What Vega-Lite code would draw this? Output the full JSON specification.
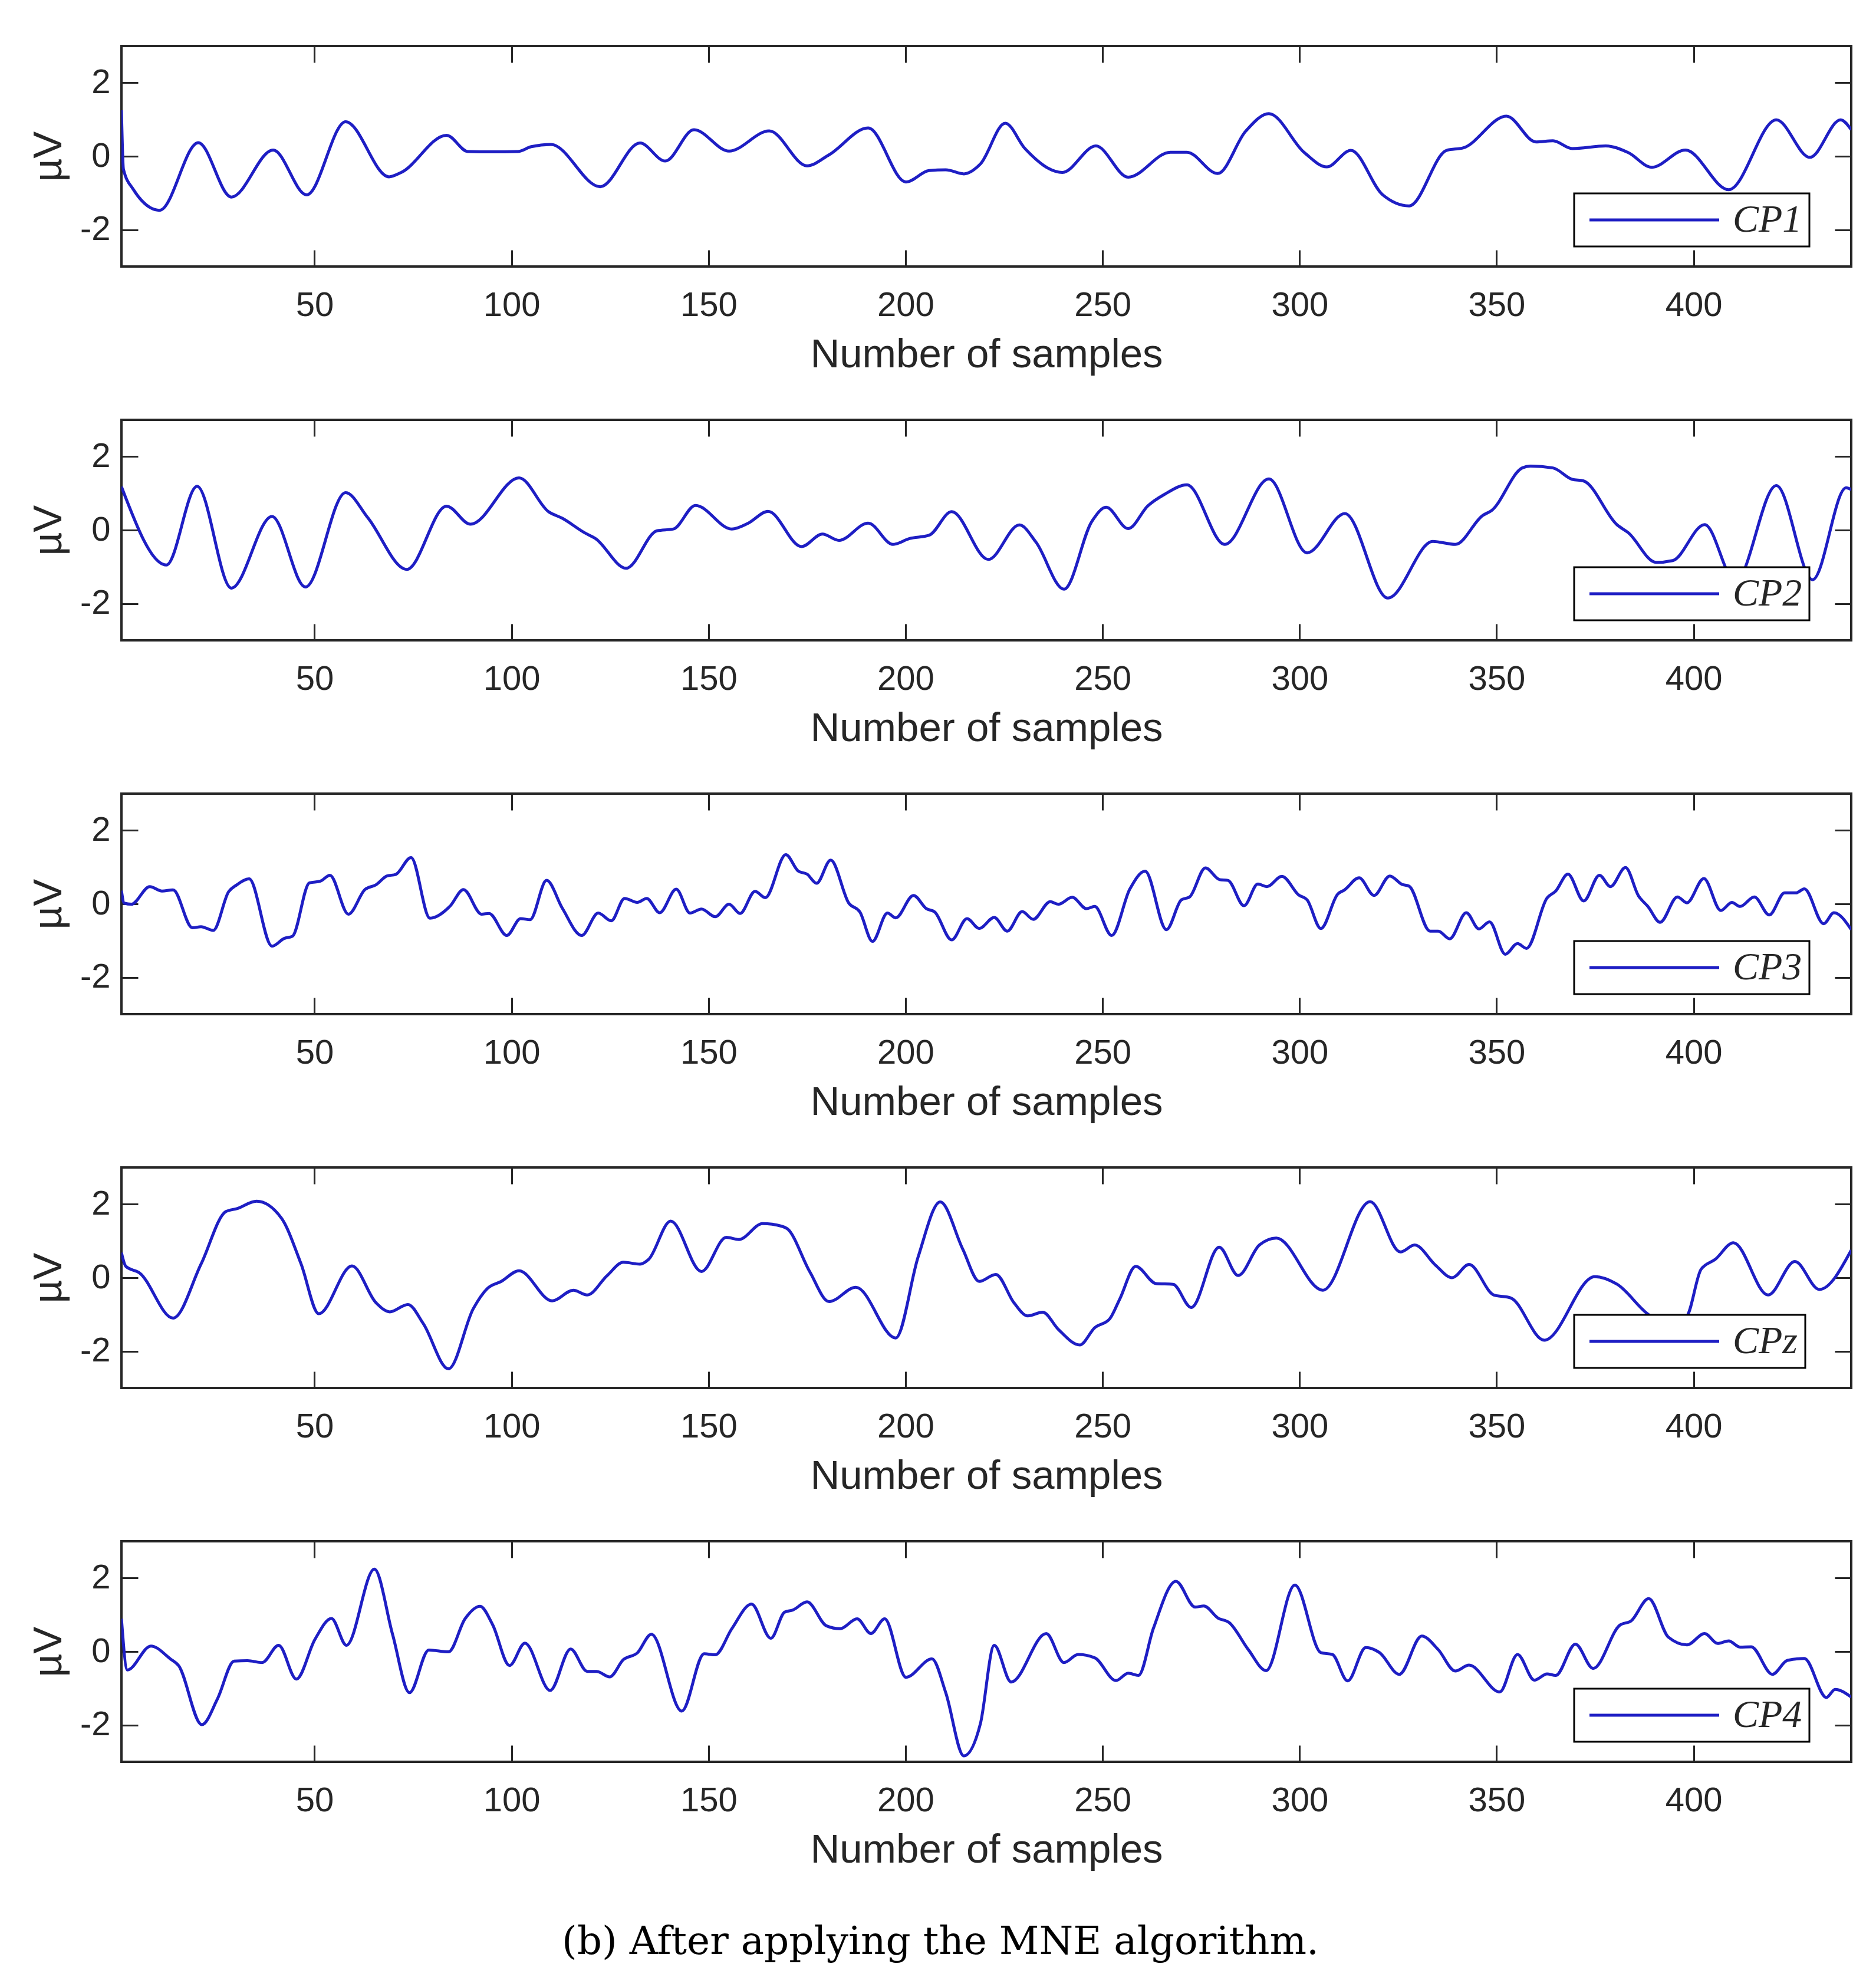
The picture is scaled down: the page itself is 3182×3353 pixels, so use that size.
{
"$schema": "https://vega.github.io/schema/vega-lite/v6.json",
"background": "white",
"padding": {"left": 46, "top": 74, "right": 20, "bottom": 20},
"config": {
  "view": {"stroke": "#262626", "strokeWidth": 4},
  "axis": {"grid": false, "domain": false, "tickColor": "#262626", "tickWidth": 3, "tickSize": -28, "labelColor": "#262626", "labelFont": "Liberation Sans", "labelFontSize": 58, "titleFont": "Liberation Sans", "titleFontSize": 69, "titleFontWeight": "normal", "titleColor": "#262626", "labelExpr": "'' + datum.value"},
  "legend": {"orient": "none", "legendX": 2464, "legendY": 250, "title": null, "symbolType": "M-5,0H5", "symbolSize": 1936, "symbolStrokeWidth": 5, "symbolOffset": 91, "labelOffset": 100, "labelFont": "Liberation Serif", "labelFontStyle": "italic", "labelFontSize": 66, "labelColor": "#262626", "padding": 12, "strokeColor": "#000000", "strokeWidth": 3, "fillColor": "white"}
},
"title": {"text": "(b) After applying the MNE algorithm.", "orient": "bottom", "anchor": "middle", "font": "DejaVu Serif", "fontSize": 66, "fontWeight": "normal", "color": "#000000", "offset": 88},
"data": {"values": [
{"ch":"CP1","s":1,"v":1.25},{"ch":"CP1","s":1.5,"v":-0.35},{"ch":"CP1","s":4,"v":-0.9},{"ch":"CP1","s":10.7,"v":-1.47},{"ch":"CP1","s":20.5,"v":0.37},{"ch":"CP1","s":28.9,"v":-1.11},{"ch":"CP1","s":39.5,"v":0.17},{"ch":"CP1","s":48,"v":-1.05},{"ch":"CP1","s":57.9,"v":0.94},{"ch":"CP1","s":68.9,"v":-0.56},{"ch":"CP1","s":72,"v":-0.44},{"ch":"CP1","s":83.5,"v":0.57},{"ch":"CP1","s":88.9,"v":0.13},{"ch":"CP1","s":95,"v":0.12},{"ch":"CP1","s":101.6,"v":0.13},{"ch":"CP1","s":105,"v":0.26},{"ch":"CP1","s":110,"v":0.32},{"ch":"CP1","s":122.5,"v":-0.83},{"ch":"CP1","s":132.6,"v":0.36},{"ch":"CP1","s":139,"v":-0.13},{"ch":"CP1","s":146.3,"v":0.72},{"ch":"CP1","s":155.2,"v":0.14},{"ch":"CP1","s":165.4,"v":0.69},{"ch":"CP1","s":175,"v":-0.26},{"ch":"CP1","s":180.6,"v":0.04},{"ch":"CP1","s":190.5,"v":0.77},{"ch":"CP1","s":200.1,"v":-0.7},{"ch":"CP1","s":206,"v":-0.39},{"ch":"CP1","s":210.2,"v":-0.37},{"ch":"CP1","s":214.8,"v":-0.48},{"ch":"CP1","s":219,"v":-0.21},{"ch":"CP1","s":225.3,"v":0.9},{"ch":"CP1","s":230.3,"v":0.21},{"ch":"CP1","s":239.8,"v":-0.44},{"ch":"CP1","s":248.3,"v":0.28},{"ch":"CP1","s":256.5,"v":-0.57},{"ch":"CP1","s":267.2,"v":0.11},{"ch":"CP1","s":271.4,"v":0.11},{"ch":"CP1","s":279.2,"v":-0.47},{"ch":"CP1","s":286.3,"v":0.68},{"ch":"CP1","s":292.2,"v":1.16},{"ch":"CP1","s":301.2,"v":0.1},{"ch":"CP1","s":306.9,"v":-0.29},{"ch":"CP1","s":313,"v":0.16},{"ch":"CP1","s":321,"v":-1.04},{"ch":"CP1","s":327.8,"v":-1.35},{"ch":"CP1","s":337.3,"v":0.16},{"ch":"CP1","s":341.6,"v":0.23},{"ch":"CP1","s":352.5,"v":1.09},{"ch":"CP1","s":360,"v":0.39},{"ch":"CP1","s":364.3,"v":0.42},{"ch":"CP1","s":369.2,"v":0.21},{"ch":"CP1","s":377.7,"v":0.28},{"ch":"CP1","s":383.4,"v":0.1},{"ch":"CP1","s":389.4,"v":-0.3},{"ch":"CP1","s":397.9,"v":0.17},{"ch":"CP1","s":408.9,"v":-0.91},{"ch":"CP1","s":421,"v":0.99},{"ch":"CP1","s":429.5,"v":-0.03},{"ch":"CP1","s":437.3,"v":0.99},{"ch":"CP1","s":440,"v":0.72},
{"ch":"CP2","s":1,"v":1.18},{"ch":"CP2","s":12.4,"v":-0.95},{"ch":"CP2","s":20.2,"v":1.19},{"ch":"CP2","s":28.9,"v":-1.58},{"ch":"CP2","s":39.2,"v":0.37},{"ch":"CP2","s":47.7,"v":-1.55},{"ch":"CP2","s":57.9,"v":1.02},{"ch":"CP2","s":63.5,"v":0.34},{"ch":"CP2","s":73.4,"v":-1.07},{"ch":"CP2","s":83.5,"v":0.65},{"ch":"CP2","s":89.6,"v":0.16},{"ch":"CP2","s":101.9,"v":1.42},{"ch":"CP2","s":109.4,"v":0.5},{"ch":"CP2","s":112.9,"v":0.32},{"ch":"CP2","s":118.5,"v":-0.07},{"ch":"CP2","s":121.3,"v":-0.23},{"ch":"CP2","s":129.1,"v":-1.04},{"ch":"CP2","s":136.9,"v":-0.02},{"ch":"CP2","s":141.1,"v":0.03},{"ch":"CP2","s":146.7,"v":0.67},{"ch":"CP2","s":155.9,"v":0.03},{"ch":"CP2","s":160.1,"v":0.19},{"ch":"CP2","s":165.1,"v":0.51},{"ch":"CP2","s":173.6,"v":-0.45},{"ch":"CP2","s":178.9,"v":-0.11},{"ch":"CP2","s":183.1,"v":-0.28},{"ch":"CP2","s":190.5,"v":0.19},{"ch":"CP2","s":196.8,"v":-0.39},{"ch":"CP2","s":201,"v":-0.23},{"ch":"CP2","s":206,"v":-0.14},{"ch":"CP2","s":211.7,"v":0.5},{"ch":"CP2","s":221,"v":-0.8},{"ch":"CP2","s":228.9,"v":0.14},{"ch":"CP2","s":233.1,"v":-0.33},{"ch":"CP2","s":240.2,"v":-1.61},{"ch":"CP2","s":247.3,"v":0.24},{"ch":"CP2","s":250.9,"v":0.62},{"ch":"CP2","s":256.5,"v":0.04},{"ch":"CP2","s":261.5,"v":0.66},{"ch":"CP2","s":265.7,"v":0.97},{"ch":"CP2","s":271.4,"v":1.23},{"ch":"CP2","s":281,"v":-0.39},{"ch":"CP2","s":292.2,"v":1.39},{"ch":"CP2","s":301.9,"v":-0.62},{"ch":"CP2","s":311.5,"v":0.45},{"ch":"CP2","s":322.4,"v":-1.85},{"ch":"CP2","s":333.8,"v":-0.31},{"ch":"CP2","s":339.5,"v":-0.39},{"ch":"CP2","s":346.5,"v":0.4},{"ch":"CP2","s":348.7,"v":0.53},{"ch":"CP2","s":356.5,"v":1.69},{"ch":"CP2","s":358.6,"v":1.74},{"ch":"CP2","s":364.3,"v":1.69},{"ch":"CP2","s":369.2,"v":1.38},{"ch":"CP2","s":372,"v":1.34},{"ch":"CP2","s":380.6,"v":0.14},{"ch":"CP2","s":383.4,"v":-0.07},{"ch":"CP2","s":390.5,"v":-0.88},{"ch":"CP2","s":394.7,"v":-0.83},{"ch":"CP2","s":402.8,"v":0.15},{"ch":"CP2","s":410.6,"v":-1.4},{"ch":"CP2","s":421,"v":1.21},{"ch":"CP2","s":430.2,"v":-1.35},{"ch":"CP2","s":438.7,"v":1.15},{"ch":"CP2","s":440,"v":1.1},
{"ch":"CP3","s":1,"v":0.36},{"ch":"CP3","s":1.7,"v":0.02},{"ch":"CP3","s":3.5,"v":-0.01},{"ch":"CP3","s":8.2,"v":0.47},{"ch":"CP3","s":11.3,"v":0.35},{"ch":"CP3","s":14.1,"v":0.38},{"ch":"CP3","s":19,"v":-0.65},{"ch":"CP3","s":21.2,"v":-0.62},{"ch":"CP3","s":24.3,"v":-0.72},{"ch":"CP3","s":28.2,"v":0.33},{"ch":"CP3","s":30.3,"v":0.52},{"ch":"CP3","s":33.4,"v":0.68},{"ch":"CP3","s":39.2,"v":-1.15},{"ch":"CP3","s":42.3,"v":-0.94},{"ch":"CP3","s":44.4,"v":-0.88},{"ch":"CP3","s":48.7,"v":0.57},{"ch":"CP3","s":51.5,"v":0.62},{"ch":"CP3","s":53.9,"v":0.78},{"ch":"CP3","s":58.6,"v":-0.28},{"ch":"CP3","s":62.8,"v":0.39},{"ch":"CP3","s":65.6,"v":0.52},{"ch":"CP3","s":68.4,"v":0.76},{"ch":"CP3","s":70.6,"v":0.8},{"ch":"CP3","s":74.5,"v":1.26},{"ch":"CP3","s":79.3,"v":-0.39},{"ch":"CP3","s":84.4,"v":-0.06},{"ch":"CP3","s":87.8,"v":0.39},{"ch":"CP3","s":92.4,"v":-0.28},{"ch":"CP3","s":94.3,"v":-0.26},{"ch":"CP3","s":98.8,"v":-0.86},{"ch":"CP3","s":102.3,"v":-0.4},{"ch":"CP3","s":104.7,"v":-0.43},{"ch":"CP3","s":108.9,"v":0.64},{"ch":"CP3","s":112.9,"v":-0.12},{"ch":"CP3","s":117.8,"v":-0.86},{"ch":"CP3","s":122,"v":-0.25},{"ch":"CP3","s":125.3,"v":-0.46},{"ch":"CP3","s":128.7,"v":0.15},{"ch":"CP3","s":131.9,"v":0.04},{"ch":"CP3","s":134.3,"v":0.15},{"ch":"CP3","s":137.6,"v":-0.24},{"ch":"CP3","s":141.8,"v":0.4},{"ch":"CP3","s":145.3,"v":-0.25},{"ch":"CP3","s":148.2,"v":-0.14},{"ch":"CP3","s":151.7,"v":-0.35},{"ch":"CP3","s":155.2,"v":-0.01},{"ch":"CP3","s":158,"v":-0.26},{"ch":"CP3","s":161.8,"v":0.34},{"ch":"CP3","s":164.4,"v":0.17},{"ch":"CP3","s":169.6,"v":1.34},{"ch":"CP3","s":172.8,"v":0.89},{"ch":"CP3","s":175,"v":0.81},{"ch":"CP3","s":177.4,"v":0.56},{"ch":"CP3","s":181,"v":1.19},{"ch":"CP3","s":185.6,"v":0.02},{"ch":"CP3","s":188.4,"v":-0.22},{"ch":"CP3","s":191.6,"v":-1.02},{"ch":"CP3","s":195.4,"v":-0.25},{"ch":"CP3","s":197.5,"v":-0.38},{"ch":"CP3","s":202,"v":0.23},{"ch":"CP3","s":205.3,"v":-0.13},{"ch":"CP3","s":207.4,"v":-0.22},{"ch":"CP3","s":211.7,"v":-0.98},{"ch":"CP3","s":215.6,"v":-0.4},{"ch":"CP3","s":218.7,"v":-0.67},{"ch":"CP3","s":222.5,"v":-0.37},{"ch":"CP3","s":225.8,"v":-0.74},{"ch":"CP3","s":229.6,"v":-0.21},{"ch":"CP3","s":232.4,"v":-0.42},{"ch":"CP3","s":236.7,"v":0.06},{"ch":"CP3","s":238.8,"v":-0.01},{"ch":"CP3","s":242.3,"v":0.18},{"ch":"CP3","s":245.9,"v":-0.13},{"ch":"CP3","s":248,"v":-0.07},{"ch":"CP3","s":252.3,"v":-0.86},{"ch":"CP3","s":256.9,"v":0.4},{"ch":"CP3","s":260.8,"v":0.89},{"ch":"CP3","s":266.2,"v":-0.7},{"ch":"CP3","s":270,"v":0.11},{"ch":"CP3","s":272.1,"v":0.19},{"ch":"CP3","s":276.1,"v":0.98},{"ch":"CP3","s":279.7,"v":0.66},{"ch":"CP3","s":281.8,"v":0.64},{"ch":"CP3","s":285.9,"v":-0.05},{"ch":"CP3","s":289.4,"v":0.54},{"ch":"CP3","s":291.7,"v":0.47},{"ch":"CP3","s":295.5,"v":0.75},{"ch":"CP3","s":299.8,"v":0.24},{"ch":"CP3","s":301.9,"v":0.11},{"ch":"CP3","s":305.4,"v":-0.67},{"ch":"CP3","s":309.7,"v":0.27},{"ch":"CP3","s":311.4,"v":0.38},{"ch":"CP3","s":315.1,"v":0.71},{"ch":"CP3","s":318.9,"v":0.23},{"ch":"CP3","s":322.9,"v":0.76},{"ch":"CP3","s":326,"v":0.53},{"ch":"CP3","s":327.8,"v":0.48},{"ch":"CP3","s":333.1,"v":-0.74},{"ch":"CP3","s":335.2,"v":-0.74},{"ch":"CP3","s":338.1,"v":-0.95},{"ch":"CP3","s":342.3,"v":-0.24},{"ch":"CP3","s":345.5,"v":-0.68},{"ch":"CP3","s":348.2,"v":-0.49},{"ch":"CP3","s":352.2,"v":-1.37},{"ch":"CP3","s":355.3,"v":-1.08},{"ch":"CP3","s":357.6,"v":-1.21},{"ch":"CP3","s":362.8,"v":0.16},{"ch":"CP3","s":365,"v":0.35},{"ch":"CP3","s":368.1,"v":0.81},{"ch":"CP3","s":372.1,"v":0.08},{"ch":"CP3","s":376.1,"v":0.78},{"ch":"CP3","s":378.9,"v":0.47},{"ch":"CP3","s":382.7,"v":0.99},{"ch":"CP3","s":386,"v":0.22},{"ch":"CP3","s":388.4,"v":-0.07},{"ch":"CP3","s":391.5,"v":-0.5},{"ch":"CP3","s":395.9,"v":0.19},{"ch":"CP3","s":398.3,"v":0.03},{"ch":"CP3","s":402.6,"v":0.69},{"ch":"CP3","s":406.9,"v":-0.18},{"ch":"CP3","s":409.7,"v":0.04},{"ch":"CP3","s":411.8,"v":-0.07},{"ch":"CP3","s":415.4,"v":0.19},{"ch":"CP3","s":419.2,"v":-0.3},{"ch":"CP3","s":423.1,"v":0.3},{"ch":"CP3","s":426,"v":0.3},{"ch":"CP3","s":428.1,"v":0.41},{"ch":"CP3","s":433,"v":-0.54},{"ch":"CP3","s":435.6,"v":-0.24},{"ch":"CP3","s":440,"v":-0.7},
{"ch":"CPz","s":1,"v":0.68},{"ch":"CPz","s":2.1,"v":0.31},{"ch":"CPz","s":5.6,"v":0.13},{"ch":"CPz","s":14.1,"v":-1.1},{"ch":"CPz","s":21.2,"v":0.37},{"ch":"CPz","s":27.5,"v":1.8},{"ch":"CPz","s":30.3,"v":1.88},{"ch":"CPz","s":35.3,"v":2.08},{"ch":"CPz","s":41.6,"v":1.62},{"ch":"CPz","s":46.6,"v":0.37},{"ch":"CPz","s":51.1,"v":-0.98},{"ch":"CPz","s":59.5,"v":0.32},{"ch":"CPz","s":65.6,"v":-0.68},{"ch":"CPz","s":69.1,"v":-0.93},{"ch":"CPz","s":73.7,"v":-0.73},{"ch":"CPz","s":77.6,"v":-1.25},{"ch":"CPz","s":84,"v":-2.48},{"ch":"CPz","s":90.3,"v":-0.84},{"ch":"CPz","s":93.8,"v":-0.3},{"ch":"CPz","s":97.4,"v":-0.1},{"ch":"CPz","s":101.9,"v":0.19},{"ch":"CPz","s":110.3,"v":-0.63},{"ch":"CPz","s":115.7,"v":-0.34},{"ch":"CPz","s":119.2,"v":-0.47},{"ch":"CPz","s":124.2,"v":0.05},{"ch":"CPz","s":128.4,"v":0.42},{"ch":"CPz","s":132.6,"v":0.37},{"ch":"CPz","s":134.8,"v":0.5},{"ch":"CPz","s":140.4,"v":1.54},{"ch":"CPz","s":148.2,"v":0.17},{"ch":"CPz","s":154.5,"v":1.1},{"ch":"CPz","s":157.7,"v":1.04},{"ch":"CPz","s":163.7,"v":1.47},{"ch":"CPz","s":168.6,"v":1.4},{"ch":"CPz","s":170,"v":1.33},{"ch":"CPz","s":175.7,"v":0.16},{"ch":"CPz","s":180.6,"v":-0.65},{"ch":"CPz","s":187.4,"v":-0.26},{"ch":"CPz","s":197.5,"v":-1.64},{"ch":"CPz","s":203.2,"v":0.57},{"ch":"CPz","s":208.8,"v":2.06},{"ch":"CPz","s":214.5,"v":0.78},{"ch":"CPz","s":218.7,"v":-0.1},{"ch":"CPz","s":222.9,"v":0.09},{"ch":"CPz","s":227.5,"v":-0.68},{"ch":"CPz","s":231,"v":-1.04},{"ch":"CPz","s":234.8,"v":-0.94},{"ch":"CPz","s":238.8,"v":-1.41},{"ch":"CPz","s":244.2,"v":-1.83},{"ch":"CPz","s":248,"v":-1.36},{"ch":"CPz","s":251.8,"v":-1.12},{"ch":"CPz","s":254.4,"v":-0.57},{"ch":"CPz","s":258.4,"v":0.31},{"ch":"CPz","s":263.6,"v":-0.16},{"ch":"CPz","s":267.9,"v":-0.18},{"ch":"CPz","s":272.5,"v":-0.81},{"ch":"CPz","s":279.6,"v":0.83},{"ch":"CPz","s":284.4,"v":0.06},{"ch":"CPz","s":289.8,"v":0.89},{"ch":"CPz","s":294.1,"v":1.08},{"ch":"CPz","s":305.9,"v":-0.34},{"ch":"CPz","s":317.9,"v":2.07},{"ch":"CPz","s":325.6,"v":0.7},{"ch":"CPz","s":329.2,"v":0.89},{"ch":"CPz","s":334.5,"v":0.34},{"ch":"CPz","s":338.7,"v":0.0},{"ch":"CPz","s":343,"v":0.36},{"ch":"CPz","s":349.3,"v":-0.47},{"ch":"CPz","s":353.6,"v":-0.55},{"ch":"CPz","s":362.1,"v":-1.7},{"ch":"CPz","s":374.9,"v":0.03},{"ch":"CPz","s":380.6,"v":-0.18},{"ch":"CPz","s":388.4,"v":-0.99},{"ch":"CPz","s":393.5,"v":-1.3},{"ch":"CPz","s":398.3,"v":-1.04},{"ch":"CPz","s":401.9,"v":0.23},{"ch":"CPz","s":405.5,"v":0.5},{"ch":"CPz","s":410.1,"v":0.95},{"ch":"CPz","s":418.9,"v":-0.47},{"ch":"CPz","s":425.7,"v":0.44},{"ch":"CPz","s":431.9,"v":-0.32},{"ch":"CPz","s":440,"v":0.75},
{"ch":"CP4","s":1,"v":0.89},{"ch":"CP4","s":2.5,"v":-0.5},{"ch":"CP4","s":8.5,"v":0.15},{"ch":"CP4","s":13.4,"v":-0.2},{"ch":"CP4","s":15.5,"v":-0.38},{"ch":"CP4","s":21.4,"v":-1.99},{"ch":"CP4","s":25.4,"v":-1.28},{"ch":"CP4","s":29.6,"v":-0.26},{"ch":"CP4","s":33,"v":-0.25},{"ch":"CP4","s":36.7,"v":-0.3},{"ch":"CP4","s":40.9,"v":0.17},{"ch":"CP4","s":45.4,"v":-0.75},{"ch":"CP4","s":50.1,"v":0.33},{"ch":"CP4","s":54.3,"v":0.9},{"ch":"CP4","s":58.1,"v":0.17},{"ch":"CP4","s":65.2,"v":2.24},{"ch":"CP4","s":69.8,"v":0.47},{"ch":"CP4","s":74.1,"v":-1.12},{"ch":"CP4","s":79,"v":0.04},{"ch":"CP4","s":84,"v":-0.01},{"ch":"CP4","s":88.2,"v":0.89},{"ch":"CP4","s":92,"v":1.23},{"ch":"CP4","s":95.2,"v":0.73},{"ch":"CP4","s":99.5,"v":-0.38},{"ch":"CP4","s":103.4,"v":0.23},{"ch":"CP4","s":109.8,"v":-1.06},{"ch":"CP4","s":115,"v":0.07},{"ch":"CP4","s":119.2,"v":-0.54},{"ch":"CP4","s":121.6,"v":-0.54},{"ch":"CP4","s":124.9,"v":-0.69},{"ch":"CP4","s":128.4,"v":-0.22},{"ch":"CP4","s":131.9,"v":-0.04},{"ch":"CP4","s":135.5,"v":0.47},{"ch":"CP4","s":143.2,"v":-1.62},{"ch":"CP4","s":148.9,"v":-0.06},{"ch":"CP4","s":151.7,"v":-0.09},{"ch":"CP4","s":155.9,"v":0.62},{"ch":"CP4","s":160.9,"v":1.29},{"ch":"CP4","s":165.8,"v":0.36},{"ch":"CP4","s":169.3,"v":1.07},{"ch":"CP4","s":171.4,"v":1.13},{"ch":"CP4","s":175,"v":1.35},{"ch":"CP4","s":179.9,"v":0.7},{"ch":"CP4","s":183.4,"v":0.62},{"ch":"CP4","s":187.7,"v":0.89},{"ch":"CP4","s":191.2,"v":0.49},{"ch":"CP4","s":194.7,"v":0.89},{"ch":"CP4","s":200.1,"v":-0.7},{"ch":"CP4","s":206.7,"v":-0.2},{"ch":"CP4","s":210.2,"v":-1.12},{"ch":"CP4","s":214.8,"v":-2.84},{"ch":"CP4","s":219,"v":-1.96},{"ch":"CP4","s":222.5,"v":0.17},{"ch":"CP4","s":226.8,"v":-0.83},{"ch":"CP4","s":235.7,"v":0.49},{"ch":"CP4","s":240.2,"v":-0.3},{"ch":"CP4","s":243.8,"v":-0.08},{"ch":"CP4","s":248,"v":-0.17},{"ch":"CP4","s":253.4,"v":-0.79},{"ch":"CP4","s":256.5,"v":-0.59},{"ch":"CP4","s":259.1,"v":-0.65},{"ch":"CP4","s":262.9,"v":0.63},{"ch":"CP4","s":268.6,"v":1.91},{"ch":"CP4","s":273.5,"v":1.21},{"ch":"CP4","s":275.7,"v":1.24},{"ch":"CP4","s":279.3,"v":0.91},{"ch":"CP4","s":282.1,"v":0.79},{"ch":"CP4","s":287,"v":0.05},{"ch":"CP4","s":291.5,"v":-0.52},{"ch":"CP4","s":298.8,"v":1.81},{"ch":"CP4","s":305.4,"v":-0.03},{"ch":"CP4","s":308.3,"v":-0.08},{"ch":"CP4","s":312.2,"v":-0.8},{"ch":"CP4","s":316.8,"v":0.11},{"ch":"CP4","s":320.3,"v":-0.03},{"ch":"CP4","s":325.3,"v":-0.62},{"ch":"CP4","s":331,"v":0.42},{"ch":"CP4","s":335.2,"v":0.05},{"ch":"CP4","s":339.5,"v":-0.53},{"ch":"CP4","s":343,"v":-0.37},{"ch":"CP4","s":350.8,"v":-1.1},{"ch":"CP4","s":355.3,"v":-0.08},{"ch":"CP4","s":359.6,"v":-0.78},{"ch":"CP4","s":362.8,"v":-0.61},{"ch":"CP4","s":365,"v":-0.65},{"ch":"CP4","s":370,"v":0.2},{"ch":"CP4","s":374.5,"v":-0.46},{"ch":"CP4","s":381.3,"v":0.72},{"ch":"CP4","s":384.1,"v":0.83},{"ch":"CP4","s":388.6,"v":1.44},{"ch":"CP4","s":393.6,"v":0.39},{"ch":"CP4","s":398.3,"v":0.18},{"ch":"CP4","s":402.8,"v":0.49},{"ch":"CP4","s":406.1,"v":0.22},{"ch":"CP4","s":408.9,"v":0.29},{"ch":"CP4","s":411.8,"v":0.12},{"ch":"CP4","s":414.6,"v":0.13},{"ch":"CP4","s":420,"v":-0.62},{"ch":"CP4","s":423.8,"v":-0.24},{"ch":"CP4","s":428.1,"v":-0.19},{"ch":"CP4","s":433.7,"v":-1.25},{"ch":"CP4","s":435.9,"v":-1.03},{"ch":"CP4","s":440,"v":-1.24}
]},
"spacing": 70,
"resolve": {"scale": {"color": "independent"}, "legend": {"color": "independent"}},
"vconcat": [
{"width": 2934, "height": 374, "transform": [{"filter": "datum.ch === 'CP1'"}],
 "layer": [
  {"mark": {"type": "line", "interpolate": "monotone", "strokeWidth": 5, "clip": true},
   "encoding": {
    "x": {"field": "s", "type": "quantitative", "scale": {"domain": [1, 440], "nice": false, "zero": false}, "axis": {"orient": "bottom", "values": [50,100,150,200,250,300,350,400], "title": "Number of samples", "labelPadding": 65, "titlePadding": 20}},
    "y": {"field": "v", "type": "quantitative", "scale": {"domain": [-3, 3], "nice": false}, "axis": {"orient": "left", "values": [-2,0,2], "title": "µV", "labelPadding": 47, "titlePadding": 18}},
    "color": {"field": "ch", "type": "nominal", "scale": {"range": ["#1e1ec4"]}}}},
  {"mark": {"type": "line", "opacity": 0},
   "encoding": {
    "x": {"field": "s", "type": "quantitative", "axis": {"orient": "top", "values": [50,100,150,200,250,300,350,400], "labels": false, "title": null}},
    "y": {"field": "v", "type": "quantitative", "axis": {"orient": "right", "values": [-2,0,2], "labels": false, "title": null}}}}
 ],
 "resolve": {"axis": {"x": "independent", "y": "independent"}}},
{"width": 2934, "height": 374, "transform": [{"filter": "datum.ch === 'CP2'"}],
 "layer": [
  {"mark": {"type": "line", "interpolate": "monotone", "strokeWidth": 5, "clip": true},
   "encoding": {
    "x": {"field": "s", "type": "quantitative", "scale": {"domain": [1, 440], "nice": false, "zero": false}, "axis": {"orient": "bottom", "values": [50,100,150,200,250,300,350,400], "title": "Number of samples", "labelPadding": 65, "titlePadding": 20}},
    "y": {"field": "v", "type": "quantitative", "scale": {"domain": [-3, 3], "nice": false}, "axis": {"orient": "left", "values": [-2,0,2], "title": "µV", "labelPadding": 47, "titlePadding": 18}},
    "color": {"field": "ch", "type": "nominal", "scale": {"range": ["#1e1ec4"]}}}},
  {"mark": {"type": "line", "opacity": 0},
   "encoding": {
    "x": {"field": "s", "type": "quantitative", "axis": {"orient": "top", "values": [50,100,150,200,250,300,350,400], "labels": false, "title": null}},
    "y": {"field": "v", "type": "quantitative", "axis": {"orient": "right", "values": [-2,0,2], "labels": false, "title": null}}}}
 ],
 "resolve": {"axis": {"x": "independent", "y": "independent"}}},
{"width": 2934, "height": 374, "transform": [{"filter": "datum.ch === 'CP3'"}],
 "layer": [
  {"mark": {"type": "line", "interpolate": "monotone", "strokeWidth": 5, "clip": true},
   "encoding": {
    "x": {"field": "s", "type": "quantitative", "scale": {"domain": [1, 440], "nice": false, "zero": false}, "axis": {"orient": "bottom", "values": [50,100,150,200,250,300,350,400], "title": "Number of samples", "labelPadding": 65, "titlePadding": 20}},
    "y": {"field": "v", "type": "quantitative", "scale": {"domain": [-3, 3], "nice": false}, "axis": {"orient": "left", "values": [-2,0,2], "title": "µV", "labelPadding": 47, "titlePadding": 18}},
    "color": {"field": "ch", "type": "nominal", "scale": {"range": ["#1e1ec4"]}}}},
  {"mark": {"type": "line", "opacity": 0},
   "encoding": {
    "x": {"field": "s", "type": "quantitative", "axis": {"orient": "top", "values": [50,100,150,200,250,300,350,400], "labels": false, "title": null}},
    "y": {"field": "v", "type": "quantitative", "axis": {"orient": "right", "values": [-2,0,2], "labels": false, "title": null}}}}
 ],
 "resolve": {"axis": {"x": "independent", "y": "independent"}}},
{"width": 2934, "height": 374, "transform": [{"filter": "datum.ch === 'CPz'"}],
 "layer": [
  {"mark": {"type": "line", "interpolate": "monotone", "strokeWidth": 5, "clip": true},
   "encoding": {
    "x": {"field": "s", "type": "quantitative", "scale": {"domain": [1, 440], "nice": false, "zero": false}, "axis": {"orient": "bottom", "values": [50,100,150,200,250,300,350,400], "title": "Number of samples", "labelPadding": 65, "titlePadding": 20}},
    "y": {"field": "v", "type": "quantitative", "scale": {"domain": [-3, 3], "nice": false}, "axis": {"orient": "left", "values": [-2,0,2], "title": "µV", "labelPadding": 47, "titlePadding": 18}},
    "color": {"field": "ch", "type": "nominal", "scale": {"range": ["#1e1ec4"]}}}},
  {"mark": {"type": "line", "opacity": 0},
   "encoding": {
    "x": {"field": "s", "type": "quantitative", "axis": {"orient": "top", "values": [50,100,150,200,250,300,350,400], "labels": false, "title": null}},
    "y": {"field": "v", "type": "quantitative", "axis": {"orient": "right", "values": [-2,0,2], "labels": false, "title": null}}}}
 ],
 "resolve": {"axis": {"x": "independent", "y": "independent"}}},
{"width": 2934, "height": 374, "transform": [{"filter": "datum.ch === 'CP4'"}],
 "layer": [
  {"mark": {"type": "line", "interpolate": "monotone", "strokeWidth": 5, "clip": true},
   "encoding": {
    "x": {"field": "s", "type": "quantitative", "scale": {"domain": [1, 440], "nice": false, "zero": false}, "axis": {"orient": "bottom", "values": [50,100,150,200,250,300,350,400], "title": "Number of samples", "labelPadding": 65, "titlePadding": 20}},
    "y": {"field": "v", "type": "quantitative", "scale": {"domain": [-3, 3], "nice": false}, "axis": {"orient": "left", "values": [-2,0,2], "title": "µV", "labelPadding": 47, "titlePadding": 18}},
    "color": {"field": "ch", "type": "nominal", "scale": {"range": ["#1e1ec4"]}}}},
  {"mark": {"type": "line", "opacity": 0},
   "encoding": {
    "x": {"field": "s", "type": "quantitative", "axis": {"orient": "top", "values": [50,100,150,200,250,300,350,400], "labels": false, "title": null}},
    "y": {"field": "v", "type": "quantitative", "axis": {"orient": "right", "values": [-2,0,2], "labels": false, "title": null}}}}
 ],
 "resolve": {"axis": {"x": "independent", "y": "independent"}}}
]
}
